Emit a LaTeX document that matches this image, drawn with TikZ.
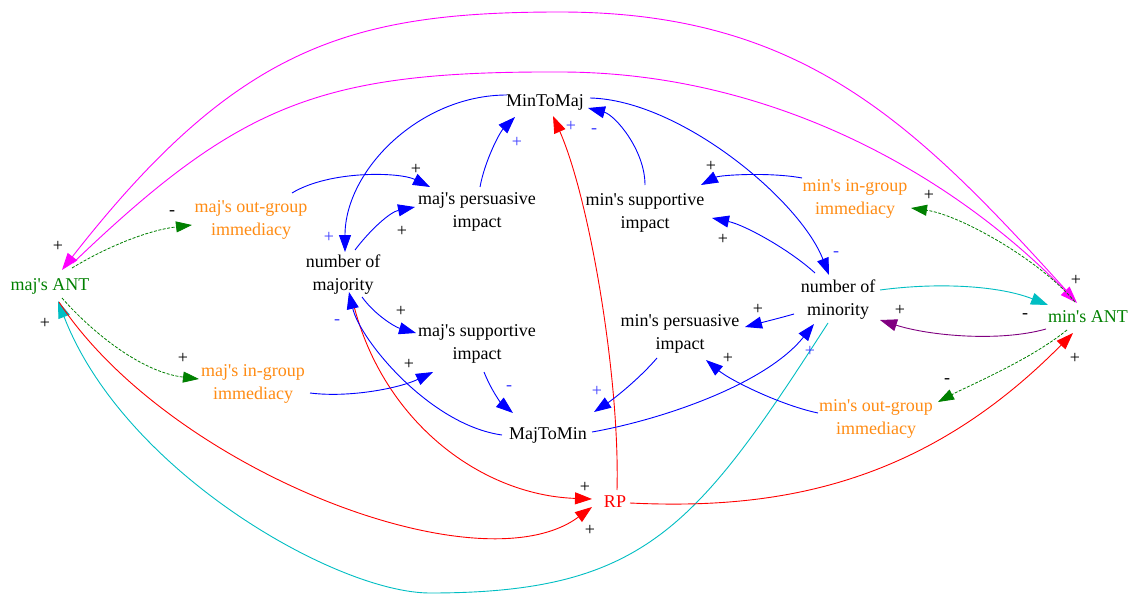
\documentclass[tikz,border=0pt]{standalone}
\usepackage{fontspec}
\setmainfont{Liberation Serif}
\usetikzlibrary{arrows.meta,calc}
\definecolor{orangec}{RGB}{255,140,20}
\definecolor{greenc}{RGB}{0,128,0}
\definecolor{cyanc}{RGB}{0,190,195}
\definecolor{purplec}{RGB}{128,0,128}
\definecolor{magentac}{RGB}{255,0,255}
\definecolor{bluec}{RGB}{0,0,255}
\definecolor{redc}{RGB}{255,0,0}
\definecolor{bluel}{RGB}{60,60,255}
\newcommand\qs{\textquotesingle}
\begin{document}
\begin{tikzpicture}[x=1pt,y=-1pt,
  every node/.style={font=\fontsize{18}{23}\selectfont, inner sep=0pt, align=center},
  orng/.style={text=orangec},
  grn/.style={text=greenc},
  lnk/.style={line width=0.9pt, -{Triangle[length=17pt,width=12pt]}},
  bl/.style={lnk, draw=bluec},
  rd/.style={lnk, draw=redc},
  mg/.style={lnk, draw=magentac},
  cy/.style={lnk, draw=cyanc},
  pu/.style={lnk, draw=purplec},
  gd/.style={line width=0.8pt, draw=greenc, dash pattern=on 3pt off 1.5pt, -{Triangle[length=16pt,width=11pt]}},
  sgn/.style={font=\fontsize{18}{18}\selectfont, text=black},
  sgnb/.style={font=\fontsize{18}{18}\selectfont, text=bluel}
]
\useasboundingbox[fill=white] (0,0) rectangle (1133,594);

% variables
\node[grn] (majANT) at (50,286) {maj\qs s ANT};
\node[grn] (minANT) at (1088,317) {min\qs s ANT};
\node[orng] (majOut) at (251,220) {maj\qs s out-group\\immediacy};
\node[orng] (majIn) at (253,384) {maj\qs s in-group\\immediacy};
\node[orng] (minIn) at (855,199) {min\qs s in-group\\immediacy};
\node[orng] (minOut) at (876,419) {min\qs s out-group\\immediacy};
\node (nMaj) at (343,275) {number of\\majority};
\node (nMin) at (838,300) {number of\\minority};
\node (majPers) at (477,212) {maj\qs s persuasive\\impact};
\node (majSupp) at (477,344) {maj\qs s supportive\\impact};
\node (minSupp) at (645,213) {min\qs s supportive\\impact};
\node (minPers) at (680,334) {min\qs s persuasive\\impact};
\node (MinToMaj) at (545,102) {MinToMaj};
\node (MajToMin) at (548,435) {MajToMin};
\node[text=redc] (RP) at (615,502) {RP};

% magenta arcs
\draw[mg] ($(minANT)+(-15,-19)$) .. controls (917,125) and (805,12) .. (560,12)
  .. controls (350,12) and (237,46) .. ($(majANT)+(12,-16)$);
\draw[mg] ($(majANT)+(23,-23)$) .. controls (240,103) and (321,71) .. (560,72)
  .. controls (770,72) and (951,173) .. ($(minANT)+(-11,-14)$);

% cyan
\draw[cy] ($(nMin)+(-10,23)$) .. controls (696,528) and (644,593) .. (430,593)
  .. controls (337,593) and (124,472) .. ($(majANT)+(8,15)$);
\draw[cy] ($(nMin)+(42,-10)$) .. controls (940,282) and (1000,286) .. ($(minANT)+(-40,-12)$);

% purple
\draw[pu] ($(minANT)+(-42,12)$) .. controls (1000,342) and (930,336) .. ($(nMin)+(42,20)$);

% red
\draw[rd] ($(majANT)+(9,16)$) .. controls (170,470) and (480,590) .. ($(RP)+(-23,5)$);
\draw[rd] ($(nMaj)+(9,23)$) .. controls (380,420) and (480,495) .. ($(RP)+(-23,-3)$);
\draw[rd] ($(RP)+(2,-12)$) .. controls (620,380) and (590,200) .. ($(MinToMaj)+(8,14)$);
\draw[rd] ($(RP)+(15,1)$) .. controls (776,510) and (922,486) .. ($(minANT)+(-15,16)$);

% green dashed
\draw[gd] ($(majANT)+(22,-18)$) .. controls (110,245) and (150,230) .. ($(majOut)+(-59,5)$);
\draw[gd] ($(majANT)+(12,12)$) .. controls (90,330) and (140,372) .. ($(majIn)+(-54,-5)$);
\draw[gd] ($(minANT)+(-13,-15)$) .. controls (1040,260) and (960,215) .. ($(minIn)+(56,9)$);
\draw[gd] ($(minANT)+(-21,13)$) .. controls (1030,360) and (970,385) .. ($(minOut)+(62,-17)$);

% blue
\draw[bl] ($(majOut)+(41,-27)$) .. controls (330,170) and (400,172) .. ($(majPers)+(-47,-25)$);
\draw[bl] ($(nMaj)+(12,-25)$) .. controls (370,230) and (390,212) .. ($(majPers)+(-62,-5)$);
\draw[bl] ($(majPers)+(3,-25)$) .. controls (485,160) and (500,132) .. ($(MinToMaj)+(-30,15)$);
\draw[bl] ($(MinToMaj)+(-38,-7)$) .. controls (420,95) and (345,170) .. ($(nMaj)+(2,-23)$);
\draw[bl] ($(nMaj)+(19,22)$) .. controls (375,315) and (395,327) .. ($(majSupp)+(-61,-11)$);
\draw[bl] ($(majIn)+(57,9)$) .. controls (350,398) and (400,388) .. ($(majSupp)+(-44,28)$);
\draw[bl] ($(majSupp)+(7,28)$) .. controls (492,392) and (502,404) .. ($(MajToMin)+(-35,-22)$);
\draw[bl] ($(MajToMin)+(-46,0)$) .. controls (430,425) and (360,340) .. ($(nMaj)+(6,17)$);
\draw[bl] ($(MajToMin)+(44,-3)$) .. controls (660,420) and (765,385) .. ($(nMin)+(-24,24)$);
\draw[bl] ($(minPers)+(-23,24)$) .. controls (640,378) and (615,398) .. ($(MajToMin)+(46,-23)$);
\draw[bl] ($(nMin)+(-44,14)$) .. controls (780,318) and (760,323) .. ($(minPers)+(65,-7)$);
\draw[bl] ($(minOut)+(-58,-6)$) .. controls (780,405) and (730,380) .. ($(minPers)+(26,26)$);
\draw[bl] ($(nMin)+(-23,-27)$) .. controls (790,250) and (745,225) .. ($(minSupp)+(67,5)$);
\draw[bl] ($(minIn)+(-53,-21)$) .. controls (770,172) and (720,175) .. ($(minSupp)+(56,-28)$);
\draw[bl] ($(minSupp)+(0,-28)$) .. controls (645,150) and (615,115) .. ($(MinToMaj)+(43,6)$);
\draw[bl] ($(MinToMaj)+(45,-4)$) .. controls (680,100) and (800,200) .. ($(nMin)+(-9,-25)$);

% polarity signs
\node[sgn] (p1) at (172,213) {-};
\node[sgn] (p2) at (58,246) {+};
\node[sgn] (p3) at (45,323) {+};
\node[sgn] (p4) at (183,358) {+};
\node[sgn] (p5) at (416,169) {+};
\node[sgn] (p6) at (402,231) {+};
\node[sgnb] (p7) at (517,142) {+};
\node[sgnb] (p8) at (329,237) {+};
\node[sgn] (p9) at (401,311) {+};
\node[sgn] (p10) at (409,364) {+};
\node[sgnb] (p11) at (509,388) {-};
\node[sgnb] (p12) at (337,322) {-};
\node[sgnb] (p13) at (571,126) {+};
\node[sgnb] (p14) at (594,131) {-};
\node[sgn] (p15) at (711,166) {+};
\node[sgn] (p16) at (723,239) {+};
\node[sgnb] (p17) at (836,254) {-};
\node[sgn] (p18) at (929,195) {+};
\node[sgn] (p19) at (1076,280) {+};
\node[sgn] (p20) at (1075,358) {+};
\node[sgn] (p21) at (1025,316) {-};
\node[sgn] (p22) at (900,310) {+};
\node[sgn] (p23) at (758,309) {+};
\node[sgn] (p24) at (728,358) {+};
\node[sgnb] (p25) at (810,351) {+};
\node[sgnb] (p26) at (597,391) {+};
\node[sgn] (p27) at (947,381) {-};
\node[sgn] (p28) at (585,487) {+};
\node[sgn] (p29) at (590,530) {+};
\end{tikzpicture}
\end{document}
